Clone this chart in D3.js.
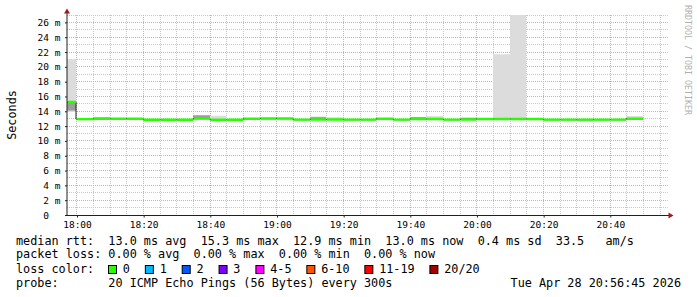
<!DOCTYPE html>
<html>
<head>
<meta charset="utf-8">
<script src="https://cdn.jsdelivr.net/npm/d3@7"></script>
<style>
  html, body { margin: 0; padding: 0; background: #fff; }
  svg { display: block; font-family: "DejaVu Sans Mono", monospace; }
  text.pre { white-space: pre; }
</style>
</head>
<body>
<svg id="chart" width="697" height="297"></svg>
<script>
const DAY = "2026-04-28";
const VIEW_START = "17:57";
const VIEW_END = "20:57";

// one entry per 5 minute step (step start time)
const stepStarts = [
  "17:55", "18:00", "18:05", "18:10", "18:15", "18:20", "18:25", "18:30", "18:35", "18:40",
  "18:45", "18:50", "18:55", "19:00", "19:05", "19:10", "19:15", "19:20", "19:25", "19:30",
  "19:35", "19:40", "19:45", "19:50", "19:55", "20:00", "20:05", "20:10", "20:15", "20:20",
  "20:25", "20:30", "20:35", "20:40", "20:45"
];
// median rtt, ms
const median = [
  15.25, 12.94, 13.00, 13.00, 13.00, 12.86, 12.86, 12.86, 13.02, 12.86,
  12.86, 13.00, 13.03, 13.03, 12.87, 12.90, 12.90, 12.87, 12.87, 13.00,
  12.87, 12.97, 12.97, 12.87, 12.90, 12.97, 12.97, 12.97, 12.97, 12.87,
  12.87, 12.87, 12.87, 12.87, 13.00
];
// outer smoke (light grey), ms
const smokeLo = [
  13.90, 12.80, 12.95, 12.90, 12.90, 12.80, 12.80, 12.80, 12.90, 12.80,
  12.80, 12.95, 12.75, 12.75, 12.80, 12.85, 12.85, 12.80, 12.80, 12.75,
  12.80, 12.90, 12.90, 12.80, 12.85, 12.90, 12.82, 12.82, 12.82, 12.80,
  12.80, 12.55, 12.80, 12.80, 12.90
];
const smokeHi = [
  21.00, 12.95, 13.25, 13.10, 13.08, 12.95, 12.95, 12.95, 13.50, 13.40,
  12.95, 13.10, 13.10, 13.10, 12.95, 13.30, 13.20, 12.95, 12.95, 13.05,
  12.95, 13.25, 13.35, 12.95, 13.20, 13.05, 21.70, 27.80, 13.05, 12.95,
  12.95, 12.95, 12.95, 12.95, 13.35
];
// inner smoke (darker grey), ms
const coreLo = [
  14.10, null, 13.00, null, null, null, null, null, 12.95, null,
  null, null, null, null, null, 12.90, null, null, null, null,
  null, 12.95, null, null, 12.90, null, null, null, null, null,
  null, null, null, null, null
];
const coreHi = [
  15.25, null, 13.15, null, null, null, null, null, 13.45, null,
  null, null, null, null, null, 13.20, null, null, null, null,
  null, 13.20, null, null, 13.10, null, null, null, null, null,
  null, null, null, null, null
];
// loss class index per step (0 = no loss)
const lossClass = [
  0, 0, 0, 0, 0, 0, 0, 0, 0, 0, 0, 0, 0, 0, 0, 0, 0, 0,
  0, 0, 0, 0, 0, 0, 0, 0, 0, 0, 0, 0, 0, 0, 0, 0, 0
];

const lossLabels = ["0", "1", "2", "3", "4-5", "6-10", "11-19", "20/20"];
const lossColors = ["#26ff00", "#00b8ff", "#0059ff", "#7e00ff", "#ff00ff", "#ff5500", "#ff0000", "#a10000"];

const yTicks = [0, 2, 4, 6, 8, 10, 12, 14, 16, 18, 20, 22, 24, 26];
const yMax = 27;

const legendRtt = "median rtt:  13.0 ms avg  15.3 ms max  12.9 ms min  13.0 ms now  0.4 ms sd  33.5   am/s";
const legendLoss = "packet loss: 0.00 % avg  0.00 % max  0.00 % min  0.00 % now";
const legendColorTitle = "loss color:";
const legendProbe = "probe:       20 ICMP Echo Pings (56 Bytes) every 300s";
const legendDate = "Tue Apr 28 20:56:45 2026";

const parse = d3.utcParse("%Y-%m-%d %H:%M");
const t = s => parse(DAY + " " + s);

const svg = d3.select('#chart');
const W = 697, H = 297;
const plot = { left: 66.7, right: 666.7, top: 15, bottom: 215 };

const x = d3.scaleUtc()
  .domain([t(VIEW_START), t(VIEW_END)])
  .range([plot.left, plot.right]);
const y = d3.scaleLinear()
  .domain([0, yMax])
  .range([plot.bottom, plot.top]);

const px = v => Math.floor(v) + 0.5;
const LEGEND_FS = 11.8;
const CW_BIG = LEGEND_FS * 0.602;
const CW_SMALL = 9.5 * 0.602;

svg.append('rect').attr('width', W).attr('height', H).attr('fill', '#fff');

svg.append('defs').append('clipPath').attr('id', 'plot-clip')
  .append('rect')
  .attr('x', 67).attr('y', plot.top)
  .attr('width', plot.right - 67).attr('height', plot.bottom - plot.top);

// grid
const grid = svg.append('g').attr('class', 'grid');
const minorTimes = x.ticks(d3.utcMinute.every(5)).filter(d => d.getUTCMinutes() % 20 !== 0);
const majorTimes = x.ticks(d3.utcMinute.every(20));
const minorY = d3.range(1, yMax + 1).filter(v => v % 2 !== 0);
const majorY = yTicks.filter(v => v > 0);

grid.selectAll('.vminor').data(minorTimes).enter().append('line')
  .attr('x1', d => px(x(d))).attr('x2', d => px(x(d)))
  .attr('y1', plot.top).attr('y2', plot.bottom)
  .attr('stroke', '#c8c8c8').attr('stroke-dasharray', '1,1');
grid.selectAll('.hminor').data(minorY).enter().append('line')
  .attr('x1', 67).attr('x2', plot.right + 1)
  .attr('y1', d => px(y(d))).attr('y2', d => px(y(d)))
  .attr('stroke', '#c8c8c8').attr('stroke-dasharray', '1,1');
grid.selectAll('.vmajor').data(majorTimes).enter().append('line')
  .attr('x1', d => px(x(d))).attr('x2', d => px(x(d)))
  .attr('y1', plot.top).attr('y2', plot.bottom)
  .attr('stroke', '#e8a4a4').attr('stroke-dasharray', '1,1');
grid.selectAll('.hmajor').data(majorY).enter().append('line')
  .attr('x1', 67).attr('x2', plot.right + 1)
  .attr('y1', d => px(y(d))).attr('y2', d => px(y(d)))
  .attr('stroke', '#e8a4a4').attr('stroke-dasharray', '1,1');

// smoke + median
const steps = stepStarts.map((s, i) => {
  const t0 = t(s);
  return {
    x0: Math.max(67, Math.floor(x(t0))),
    x1: Math.floor(x(d3.utcMinute.offset(t0, 5))),
    med: median[i], lo: smokeLo[i], hi: smokeHi[i],
    clo: coreLo[i], chi: coreHi[i], loss: lossClass[i]
  };
});

const data = svg.append('g').attr('clip-path', 'url(#plot-clip)');

data.selectAll('.smoke').data(steps).enter().append('rect')
  .attr('x', d => d.x0).attr('width', d => d.x1 - d.x0)
  .attr('y', d => y(d.hi)).attr('height', d => y(d.lo) - y(d.hi))
  .attr('fill', '#dcdcdc');

data.selectAll('.core').data(steps.filter(d => d.clo != null)).enter().append('rect')
  .attr('x', d => d.x0).attr('width', d => d.x1 - d.x0)
  .attr('y', d => y(d.chi)).attr('height', d => y(d.clo) - y(d.chi))
  .attr('fill', '#9c9c9c');

// thin dark median with step transitions
const stepLine = d3.line().curve(d3.curveStepAfter)
  .x(d => d[0]).y(d => d[1]);
const linePts = steps.map(d => [d.x0, y(d.med)]);
linePts.push([steps[steps.length - 1].x1, y(median[median.length - 1])]);
data.append('path')
  .attr('d', stepLine(linePts))
  .attr('fill', 'none').attr('stroke', '#202020').attr('stroke-width', 1);

// loss coloured median
data.selectAll('.med').data(steps).enter().append('line')
  .attr('x1', d => d.x0 + 0.5).attr('x2', d => d.x1)
  .attr('y1', d => y(d.med)).attr('y2', d => y(d.med))
  .attr('stroke', d => lossColors[d.loss]).attr('stroke-width', 2.4);

// axes
const axisColor = '#202020';
const arrowColor = '#9b1c1c';
svg.append('line')
  .attr('x1', 67).attr('x2', 67).attr('y1', plot.bottom + 1).attr('y2', 11)
  .attr('stroke', axisColor);
svg.append('line')
  .attr('x1', 66).attr('x2', 669).attr('y1', plot.bottom + 0.5).attr('y2', plot.bottom + 0.5)
  .attr('stroke', axisColor);
svg.append('path')
  .attr('d', 'M67,8.5L64,13.5L70,13.5Z').attr('fill', arrowColor);
svg.append('path')
  .attr('d', 'M673.5,215.5L668.5,212.5L668.5,218.5Z').attr('fill', arrowColor);

const xAxis = d3.axisBottom(x)
  .tickValues(majorTimes)
  .tickSize(2)
  .tickPadding(3)
  .tickFormat(d3.utcFormat('%H:%M'));
const gx = svg.append('g')
  .attr('transform', `translate(0.3,${plot.bottom + 0.5})`)
  .call(xAxis);
gx.select('.domain').remove();
gx.selectAll('.tick line').attr('stroke', axisColor);
gx.selectAll('.tick text')
  .attr('font-family', '"DejaVu Sans Mono", monospace')
  .attr('font-size', '9.5px').attr('fill', '#000')
  .attr('y', 0).attr('dy', null)
  .attr('transform', 'translate(0,12.8)');

const yAxis = d3.axisLeft(y)
  .tickValues(yTicks)
  .tickSize(2)
  .tickPadding(4.5)
  .tickFormat(d => d === 0 ? '0' : d + ' m');
const gy = svg.append('g')
  .attr('transform', 'translate(67,0)')
  .call(yAxis);
gy.select('.domain').remove();
gy.selectAll('.tick line').attr('stroke', axisColor);
gy.selectAll('.tick text')
  .attr('font-family', '"DejaVu Sans Mono", monospace')
  .attr('font-size', '9.5px').attr('fill', '#000')
  .attr('dx', d => d === 0 ? -2 * CW_SMALL : 0);

// axis title and watermark
svg.append('text')
  .attr('transform', 'translate(15.5,115) rotate(-90)')
  .attr('text-anchor', 'middle')
  .attr('font-size', LEGEND_FS + 'px').attr('fill', '#000')
  .text('Seconds');
svg.append('text')
  .attr('transform', 'translate(684.5,5) rotate(90)')
  .attr('font-size', '8.3px').attr('fill', '#b0b0b0')
  .text('RRDTOOL / TOBI OETIKER');

// legend
const legend = svg.append('g')
  .attr('font-size', LEGEND_FS + 'px').attr('fill', '#000');
const legendText = (lx, ly, s) => legend.append('text')
  .attr('class', 'pre')
  .attr('xml:space', 'preserve')
  .attr('x', lx).attr('y', ly)
  .text(s);
legendText(16, 245, legendRtt);
legendText(16, 258.3, legendLoss);
legendText(16, 273.3, legendColorTitle);
legendText(16, 287.3, legendProbe);
legendText(681, 287.3, legendDate).attr('text-anchor', 'end');

let lx = 108;
lossLabels.forEach((lab, i) => {
  legend.append('rect')
    .attr('x', lx + 0.5).attr('y', 265.5).attr('width', 8).attr('height', 8)
    .attr('fill', lossColors[i]).attr('stroke', '#000').attr('stroke-width', 1);
  legendText(lx + 14.8, 273.3, lab);
  lx += 14.8 + lab.length * 7.05 + 15;
});
</script>
</body>
</html>
